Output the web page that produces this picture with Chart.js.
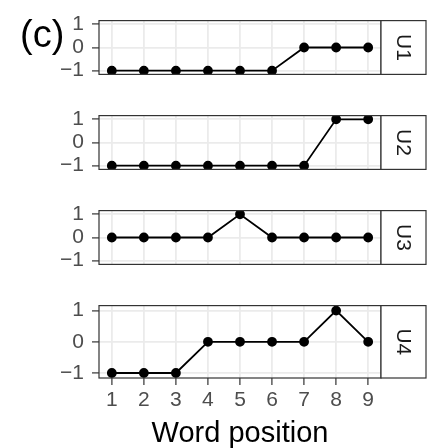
<!DOCTYPE html>
<html lang="en">
<head>
    <meta charset="UTF-8">
    <title>Word position panels</title>
    <script src="https://cdn.jsdelivr.net/npm/chart.js"></script>
    <style>
        body {
            margin: 0;
            padding: 0;
            background-color: #ffffff;
        }
        #wrap {
            position: relative;
            width: 435px;
            height: 448px;
        }
        #wrap canvas {
            position: absolute;
            left: 0;
        }
    </style>
</head>
<body>
    <div id="wrap">
        <canvas id="c1" style="top:0px"></canvas>
        <canvas id="c2" style="top:95px"></canvas>
        <canvas id="c3" style="top:190px"></canvas>
        <canvas id="c4" style="top:285px"></canvas>
    </div>
    <script>
        // data
        const positions = [1, 2, 3, 4, 5, 6, 7, 8, 9];
        const u1 = [-1, -1, -1, -1, -1, -1, 0, 0, 0];
        const u2 = [-1, -1, -1, -1, -1, -1, -1, 1, 1];
        const u3 = [0, 0, 0, 0, 1, 0, 0, 0, 0];
        const u4 = [-1, -1, -1, 0, 0, 0, 0, 1, 0];
        const yTicks = [-1, 0, 1];
        const panelLabels = ['U1', 'U2', 'U3', 'U4'];
        const xTitle = 'Word position';

        const FONT = 'Arial, "Liberation Sans", Helvetica, sans-serif';
        const STRIP_W = 45;
        Chart.defaults.font.family = FONT;

        // panel border + strip on the right
        const panelDecor = {
            id: 'panelDecor',
            afterDraw(chart, args, opts) {
                const ctx = chart.ctx;
                const a = chart.chartArea;
                ctx.save();
                ctx.strokeStyle = '#333333';
                ctx.lineWidth = 1.2;
                ctx.strokeRect(a.left, a.top, a.right - a.left, a.bottom - a.top);
                ctx.fillStyle = '#ffffff';
                ctx.fillRect(a.right, a.top, STRIP_W, a.bottom - a.top);
                ctx.strokeRect(a.right, a.top, STRIP_W, a.bottom - a.top);
                ctx.translate(a.right + STRIP_W / 2, (a.top + a.bottom) / 2);
                ctx.rotate(Math.PI / 2);
                ctx.fillStyle = '#1a1a1a';
                ctx.font = '21px ' + FONT;
                ctx.textAlign = 'center';
                ctx.textBaseline = 'middle';
                ctx.fillText(opts.label, 0, 1);
                ctx.restore();
                if (opts.tag) {
                    ctx.save();
                    ctx.fillStyle = '#000000';
                    ctx.font = '38px ' + FONT;
                    ctx.textAlign = 'left';
                    ctx.textBaseline = 'alphabetic';
                    ctx.fillText(opts.tag, 20, 47);
                    ctx.restore();
                }
            }
        };

        function makePanel(id, values, idx, last) {
            const canvas = document.getElementById(id);
            canvas.width = 435;
            canvas.height = last ? 163 : 95;
            canvas.style.width = '435px';
            canvas.style.height = (last ? 163 : 95) + 'px';
            return new Chart(canvas.getContext('2d'), {
                type: 'line',
                data: {
                    datasets: [{
                        data: positions.map((p, i) => ({ x: p, y: values[i] })),
                        borderColor: '#000000',
                        backgroundColor: '#000000',
                        borderWidth: 1.8,
                        pointRadius: 4,
                        pointHoverRadius: 4,
                        tension: 0
                    }]
                },
                options: {
                    responsive: false,
                    animation: false,
                    events: [],
                    layout: {
                        padding: { top: 13, right: 54, bottom: last ? 0 : 4, left: 0 }
                    },
                    plugins: {
                        legend: { display: false },
                        tooltip: { enabled: false },
                        panelDecor: { label: panelLabels[idx], tag: idx === 0 ? '(c)' : null }
                    },
                    scales: {
                        x: {
                            type: 'linear',
                            min: 0.6,
                            max: 9.4,
                            afterBuildTicks: s => { s.ticks = positions.map(v => ({ value: v })); },
                            afterFit: s => { s.height = last ? 70 : 0; },
                            border: { display: false },
                            grid: {
                                color: '#ebebeb',
                                lineWidth: 1.8,
                                drawTicks: last,
                                tickLength: 7,
                                tickColor: '#333333',
                                tickWidth: 1.2
                            },
                            ticks: {
                                display: last,
                                color: '#4d4d4d',
                                font: { size: 21 },
                                padding: 3,
                                maxRotation: 0
                            },
                            title: {
                                display: last,
                                text: xTitle,
                                color: '#000000',
                                font: { size: 29, lineHeight: 1 },
                                padding: { top: 0, bottom: 0 }
                            }
                        },
                        y: {
                            min: -1.16,
                            max: 1.16,
                            afterBuildTicks: s => { s.ticks = yTicks.map(v => ({ value: v })); },
                            afterFit: s => { s.width = 99; },
                            border: { display: false },
                            grid: {
                                color: '#ebebeb',
                                lineWidth: 1.8,
                                tickLength: 7,
                                tickColor: '#333333',
                                tickWidth: 1.2
                            },
                            ticks: {
                                color: '#4d4d4d',
                                font: { size: 21 },
                                padding: 8,
                                callback: v => (v < 0 ? '\u2212' + Math.abs(v) : String(v))
                            }
                        }
                    }
                },
                plugins: [panelDecor]
            });
        }

        makePanel('c1', u1, 0, false);
        makePanel('c2', u2, 1, false);
        makePanel('c3', u3, 2, false);
        makePanel('c4', u4, 3, true);
    </script>
</body>
</html>
